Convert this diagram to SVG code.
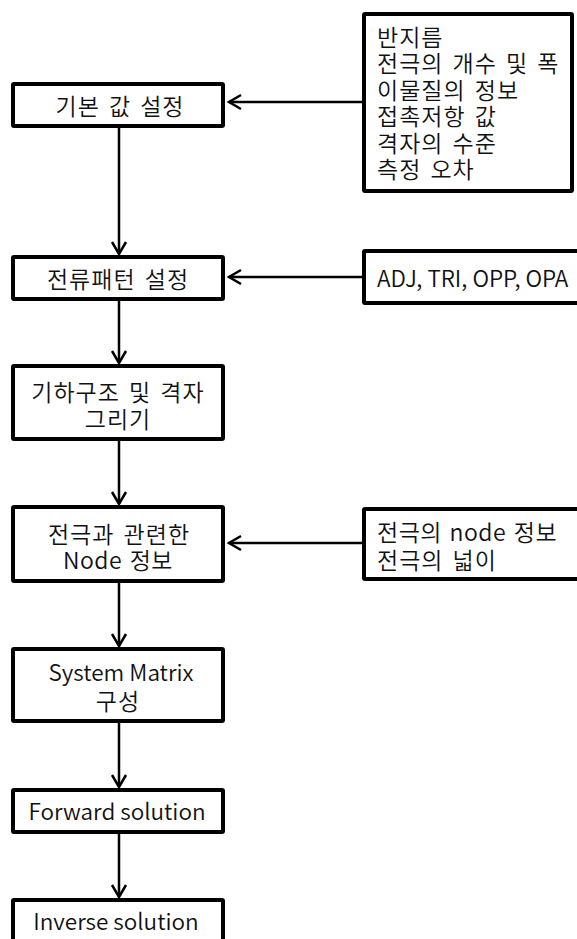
<svg xmlns="http://www.w3.org/2000/svg" width="577" height="939" viewBox="0 0 577 939">
<defs>
<style>
.box{fill:#fff;stroke:#000;stroke-width:4;}
.t{font-family:"Noto Sans CJK KR","Noto Sans",sans-serif;font-size:23px;font-weight:350;fill:#111;}
.k{letter-spacing:1px;word-spacing:3px;}
.l{font-size:22.5px;}
.m{letter-spacing:0.5px;word-spacing:2px;}
.c{text-anchor:middle;}
.conn{stroke:#000;stroke-width:2.5;fill:none;}
</style>
<marker id="ah" markerUnits="userSpaceOnUse" markerWidth="20" markerHeight="20" viewBox="-14 -10 16 20" refX="0" refY="0" orient="auto">
<path d="M-12,-7 L0,0 L-12,7" fill="none" stroke="#000" stroke-width="2.5"/>
</marker>
</defs>
<rect width="577" height="939" fill="#fff"/>
<g id="connectors">
<line class="conn" x1="364" y1="102" x2="229" y2="102" marker-end="url(#ah)"/>
<line class="conn" x1="119" y1="126" x2="119" y2="254" marker-end="url(#ah)"/>
<line class="conn" x1="364" y1="277" x2="229" y2="277" marker-end="url(#ah)"/>
<line class="conn" x1="119" y1="299" x2="119" y2="363" marker-end="url(#ah)"/>
<line class="conn" x1="119" y1="440" x2="119" y2="504" marker-end="url(#ah)"/>
<line class="conn" x1="364" y1="543" x2="229" y2="543" marker-end="url(#ah)"/>
<line class="conn" x1="119" y1="582" x2="119" y2="646" marker-end="url(#ah)"/>
<line class="conn" x1="119" y1="722" x2="119" y2="787" marker-end="url(#ah)"/>
<line class="conn" x1="119" y1="833" x2="119" y2="897" marker-end="url(#ah)"/>
</g>
<g id="n1"><rect class="box" x="13" y="84" width="210" height="42" rx="1"/><text class="t k c" x="120" y="115">기본 값 설정</text></g>
<g id="n2"><rect class="box" x="13" y="257" width="210" height="42" rx="1"/><text class="t k c" x="118" y="288">전류패턴 설정</text></g>
<g id="n3"><rect class="box" x="13" y="366" width="210" height="73" rx="1"/><text class="t k c" x="118" y="401">기하구조 및 격자</text><text class="t k c" x="118" y="428">그리기</text></g>
<g id="n4"><rect class="box" x="13" y="507" width="210" height="74" rx="1"/><text class="t k c" x="119" y="543">전극과 관련한</text><text class="t m c" x="118" y="569">Node 정보</text></g>
<g id="n5"><rect class="box" x="13" y="649" width="210" height="72" rx="1"/><text class="t l c" x="121" y="681">System Matrix</text><text class="t k c" x="118" y="710">구성</text></g>
<g id="n6"><rect class="box" x="13" y="790" width="210" height="42" rx="1"/><text class="t l c" x="117" y="820">Forward solution</text></g>
<g id="n7"><rect class="box" x="13" y="900" width="210" height="60" rx="1"/><text class="t l c" x="116" y="930">Inverse solution</text></g>
<g id="r1"><rect class="box" x="364" y="14" width="208" height="177" rx="1"/>
<text class="t k" x="377" y="46">반지름</text>
<text class="t k" x="377" y="72.4">전극의 개수 및 폭</text>
<text class="t k" x="377" y="98.8">이물질의 정보</text>
<text class="t k" x="377" y="125.2">접촉저항 값</text>
<text class="t k" x="377" y="151.6">격자의 수준</text>
<text class="t k" x="377" y="178">측정 오차</text>
</g>
<g id="r2"><rect class="box" x="364" y="251" width="240" height="52" rx="1"/><text class="t l" x="377" y="287">ADJ, TRI, OPP, OPA</text></g>
<g id="r3"><rect class="box" x="364" y="509" width="240" height="70" rx="1"/><text class="t m" x="377" y="541">전극의 node 정보</text><text class="t k" x="377" y="569">전극의 넓이</text></g>
</svg>
